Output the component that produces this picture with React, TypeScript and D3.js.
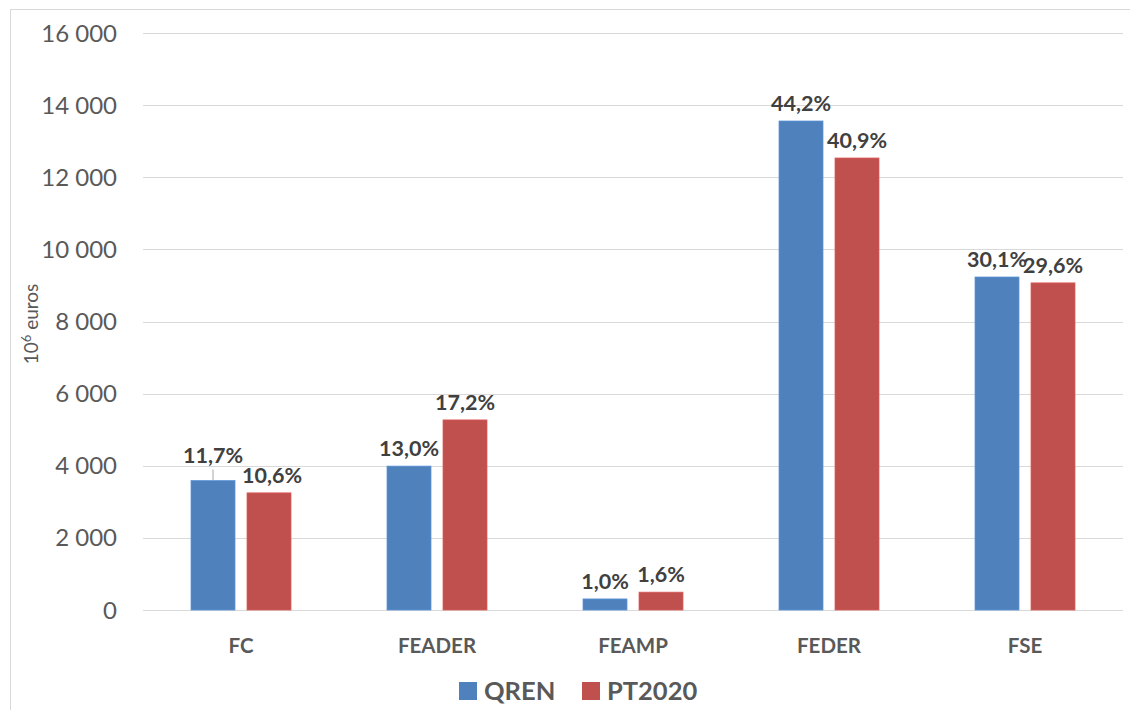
import React from "react";
import * as d3 from "d3";

const categories = ["FC", "FEADER", "FEAMP", "FEDER", "FSE"];
const seriesNames = ["QREN", "PT2020"];
const qrenValues = [3590, 3990, 307, 13560, 9234];
const pt2020Values = [3248, 5271, 495, 12534, 9071];
const qrenLabels = ["11,7%", "13,0%", "1,0%", "44,2%", "30,1%"];
const pt2020Labels = ["10,6%", "17,2%", "1,6%", "40,9%", "29,6%"];
const yTicks = [0, 2000, 4000, 6000, 8000, 10000, 12000, 14000, 16000];
const colors = ["#4F81BD", "#C0504D"];

const W = 1138;
const H = 718;
const FONT = "Lato, 'Open Sans', sans-serif";

export default function App() {
  const x0 = d3.scaleBand<string>().domain(categories).range([143, 1123]).paddingInner(0).paddingOuter(0);
  const y = d3.scaleLinear().domain([0, 16000]).range([610, 33]);
  const barW = 44;
  const gap = 12;
  const fmt = (v: number) => (v === 0 ? "0" : d3.format(",")(v).replace(",", " "));
  const series = [
    { name: seriesNames[0], values: qrenValues, labels: qrenLabels, color: colors[0] },
    { name: seriesNames[1], values: pt2020Values, labels: pt2020Labels, color: colors[1] },
  ];

  return (
    <div style={{ margin: -8 }}>
      <svg width={W} height={H} style={{ display: "block", fontFamily: FONT }}>
        <rect x={0} y={0} width={W} height={H} fill="#fff" />
        <rect x={10.5} y={9.5} width={W} height={H} fill="none" stroke="#d9d9d9" />
        {yTicks.map((t) => (
          <g key={t}>
            <line x1={143} x2={1123} y1={Math.round(y(t)) + 0.5} y2={Math.round(y(t)) + 0.5} stroke="#d9d9d9" strokeWidth={1} />
            <text x={117} y={y(t) + 8.5} textAnchor="end" fontSize={24} fill="#595959">
              {fmt(t)}
            </text>
          </g>
        ))}
        <text transform={`translate(38,324) rotate(-90)`} textAnchor="middle" fontSize={19} fill="#595959">
          10<tspan dy={-7} fontSize={13}>6</tspan>
          <tspan dy={7}>{"\u00a0euros"}</tspan>
        </text>
        {categories.map((c, i) => {
          const cx = (x0(c) as number) + x0.bandwidth() / 2;
          return (
            <g key={c}>
              {series.map((s, si) => {
                const bx = si === 0 ? cx - gap / 2 - barW : cx + gap / 2;
                const top = y(s.values[i]);
                const isFcQren = i === 0 && si === 0;
                const ly = isFcQren ? top - 18 : top - 10;
                return (
                  <g key={s.name}>
                    <rect x={bx} y={top} width={barW} height={y(0) - top} fill={s.color} stroke={d3.color(s.color)!.brighter(0.4).toString()} strokeWidth={0.75} />
                    {isFcQren && (
                      <line x1={bx + barW / 2} x2={bx + barW / 2} y1={top - 11} y2={top} stroke="#a6a6a6" strokeWidth={1} />
                    )}
                    <text x={bx + barW / 2 + (i === 0 && si === 1 ? 3 : 0)} y={ly} textAnchor="middle" fontSize={21.5} fontWeight="bold" fill="#404040">
                      {s.labels[i]}
                    </text>
                  </g>
                );
              })}
              <text x={cx} y={653} textAnchor="middle" fontSize={20.5} fontWeight="bold" fill="#595959">
                {c}
              </text>
            </g>
          );
        })}
        {series.map((s, si) => {
          const lx = si === 0 ? 459 : 582;
          return (
            <g key={s.name}>
              <rect x={lx} y={682} width={18} height={18} fill={s.color} />
              <text x={lx + 25} y={700} fontSize={25.5} fontWeight="bold" fill="#595959">
                {s.name}
              </text>
            </g>
          );
        })}
      </svg>
    </div>
  );
}
